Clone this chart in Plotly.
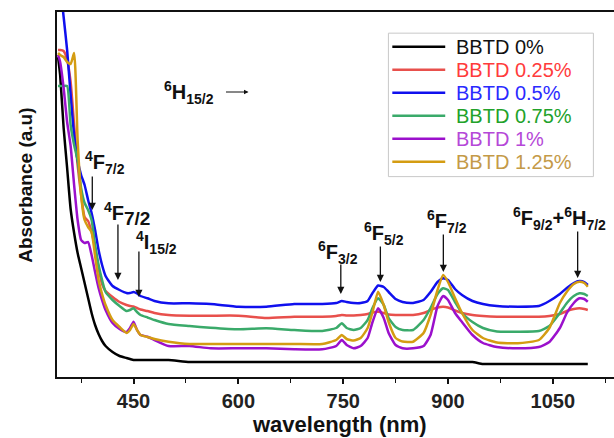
import plotly.graph_objects as go

# Wavelength grid (nm) shared by all spectra
wavelength = [342, 345, 350, 355, 360, 365, 370, 375, 380, 385, 390, 395, 400, 405, 410,
              420, 430, 440, 445, 450, 455, 460, 470, 480, 500, 530, 560, 600, 640, 680,
              720, 740, 748, 755, 765, 775, 785, 792, 800, 808, 815, 825, 835, 850, 865,
              875, 885, 893, 900, 910, 920, 935, 950, 970, 1000, 1030, 1045, 1060, 1070,
              1080, 1088, 1095, 1100]

# Absorbance (a.u.) of each glass
abs_0 = [3.20, 3.02, 2.49, 2.09, 1.68, 1.44, 1.24, 1.09, 0.94, 0.79, 0.64, 0.52, 0.43, 0.36, 0.31,
         0.25, 0.21, 0.19, 0.18, 0.17, 0.17, 0.17, 0.17, 0.17, 0.17, 0.15, 0.15, 0.15, 0.15, 0.15,
         0.15, 0.15, 0.15, 0.15, 0.15, 0.15, 0.15, 0.15, 0.15, 0.15, 0.15, 0.15, 0.15, 0.15, 0.15,
         0.15, 0.15, 0.15, 0.15, 0.15, 0.15, 0.15, 0.13, 0.13, 0.13, 0.13, 0.13, 0.13, 0.13,
         0.13, 0.13, 0.13, 0.13]
abs_025 = [3.27, 3.27, 3.26, 3.17, 2.95, 2.52, 2.12, 1.82, 1.60, 1.56, 1.45, 1.29, 1.09, 0.93, 0.86,
           0.80, 0.75, 0.72, 0.71, 0.705, 0.69, 0.675, 0.66, 0.64, 0.62, 0.613, 0.613, 0.613, 0.59, 0.603,
           0.603, 0.61, 0.62, 0.615, 0.615, 0.62, 0.63, 0.645, 0.653, 0.64, 0.625, 0.62, 0.62, 0.62, 0.64,
           0.67, 0.695, 0.703, 0.695, 0.665, 0.64, 0.62, 0.61, 0.603, 0.603, 0.603, 0.61, 0.63, 0.66,
           0.68, 0.687, 0.68, 0.67]
abs_05 = [4.23, 3.94, 3.60, 3.27, 2.82, 2.42, 2.17, 2.02, 1.92, 1.77, 1.64, 1.47, 1.27, 1.12, 1.01,
          0.91, 0.87, 0.84, 0.84, 0.85, 0.835, 0.81, 0.787, 0.76, 0.737, 0.737, 0.73, 0.703, 0.703, 0.73,
          0.73, 0.74, 0.76, 0.75, 0.74, 0.74, 0.76, 0.84, 0.915, 0.90, 0.85, 0.78, 0.75, 0.74, 0.77,
          0.85, 0.95, 0.987, 0.97, 0.88, 0.82, 0.76, 0.73, 0.71, 0.703, 0.71, 0.76, 0.83, 0.89,
          0.94, 0.96, 0.95, 0.92]
abs_075 = [2.91, 2.91, 2.91, 2.91, 2.52, 2.32, 2.17, 1.89, 1.74, 1.67, 1.57, 1.32, 1.12, 0.97, 0.85,
           0.77, 0.71, 0.66, 0.67, 0.687, 0.65, 0.62, 0.595, 0.57, 0.53, 0.51, 0.493, 0.477, 0.487, 0.47,
           0.46, 0.49, 0.537, 0.49, 0.47, 0.49, 0.57, 0.69, 0.787, 0.72, 0.59, 0.50, 0.47, 0.47, 0.57,
           0.69, 0.83, 0.887, 0.87, 0.75, 0.64, 0.55, 0.49, 0.455, 0.453, 0.46, 0.51, 0.64, 0.74,
           0.81, 0.837, 0.83, 0.81]
abs_1 = [3.22, 3.15, 2.89, 2.55, 2.31, 1.92, 1.57, 1.37, 1.34, 1.35, 1.22, 1.05, 0.89, 0.77, 0.67,
         0.54, 0.48, 0.45, 0.49, 0.553, 0.47, 0.42, 0.403, 0.37, 0.31, 0.31, 0.287, 0.287, 0.287, 0.277,
         0.277, 0.31, 0.37, 0.32, 0.287, 0.31, 0.39, 0.55, 0.687, 0.59, 0.44, 0.32, 0.287, 0.287, 0.31,
         0.42, 0.71, 0.81, 0.77, 0.64, 0.55, 0.42, 0.34, 0.30, 0.287, 0.30, 0.35, 0.49, 0.64,
         0.74, 0.787, 0.78, 0.753]
abs_125 = [3.24, 3.22, 3.20, 3.15, 3.13, 3.24, 2.37, 1.82, 1.57, 1.50, 1.45, 1.21, 0.97, 0.83, 0.72,
           0.57, 0.50, 0.44, 0.47, 0.53, 0.47, 0.42, 0.40, 0.38, 0.353, 0.33, 0.33, 0.33, 0.33, 0.33,
           0.33, 0.37, 0.42, 0.38, 0.365, 0.39, 0.49, 0.65, 0.853, 0.72, 0.55, 0.39, 0.355, 0.353, 0.44,
           0.62, 0.87, 1.02, 0.95, 0.79, 0.64, 0.47, 0.39, 0.345, 0.337, 0.37, 0.49, 0.74, 0.853,
           0.93, 0.953, 0.94, 0.903]

series_names = ["BBTD 0%", "BBTD 0.25%", "BBTD 0.5%", "BBTD 0.75%", "BBTD 1%", "BBTD 1.25%"]
series_values = [abs_0, abs_025, abs_05, abs_075, abs_1, abs_125]
line_colors = ["#000000", "#e8504c", "#1010ee", "#3aaa6a", "#9b10cc", "#d49c12"]
text_colors = ["#111111", "#ff3b3b", "#2a2aff", "#22a22a", "#b548d8", "#c49a48"]

# Dy3+ transitions: label, label position, arrow tip (wavelength, absorbance), arrow length (px)
transition_text = ["<sup>4</sup>F<sub>7/2</sub>",
                   "<sup>4</sup>F<sub><span style='font-size:19px'>7/2</span></sub>",
                   "<sup>4</sup>I<sub>15/2</sub>",
                   "<sup>6</sup>F<sub>3/2</sub>",
                   "<sup>6</sup>F<sub>5/2</sub>",
                   "<sup>6</sup>F<sub>7/2</sub>",
                   "<sup>6</sup>F<sub>9/2</sub>+<sup>6</sup>H<sub>7/2</sub>",
                   "<sup>6</sup>H<sub>15/2</sub>"]
label_wl = [409.7, 441.0, 482.5, 743.0, 808.5, 898.6, 1060.0, 530.0]
label_abs = [2.15, 1.63, 1.35, 1.25, 1.44, 1.56, 1.59, 2.85]
arrow_wl = [391.0, 427.7, 457.7, 746.6, 803.2, 893.3, 1085.5]
arrow_tip = [1.67, 0.97, 0.80, 0.83, 0.95, 1.05, 0.99]
arrow_len = [35, 57, 47, 31, 37, 39, 48]

fig = go.Figure()
for name, ys, col in zip(series_names, series_values, line_colors):
    fig.add_trace(go.Scatter(
        x=wavelength, y=ys, mode="lines", name=name, showlegend=False,
        line=dict(color=col, width=2.5, shape="spline", smoothing=0.5),
    ))

annotations = []
for txt, lx, ly in zip(transition_text, label_wl, label_abs):
    annotations.append(dict(x=lx, y=ly, xref="x", yref="y", text=txt, showarrow=False,
                            xanchor="center", yanchor="middle",
                            font=dict(size=20, color="#111111", weight="bold")))
for ax_wl, tip, ln in zip(arrow_wl, arrow_tip, arrow_len):
    annotations.append(dict(x=ax_wl, y=tip, xref="x", yref="y", text="", showarrow=True,
                            ax=0, ay=-ln, arrowhead=2, arrowsize=1.1, arrowwidth=1.3,
                            arrowcolor="#111111", standoff=0))
# horizontal arrow after the 6H15/2 label
annotations.append(dict(x=614.5, y=2.85, xref="x", yref="y", text="", showarrow=True,
                        ax=-24, ay=0, arrowhead=2, arrowsize=0.9, arrowwidth=1.0,
                        arrowcolor="#111111", standoff=0))

# axis titles
annotations.append(dict(x=0.508, y=-0.131, xref="paper", yref="paper", text="wavelength (nm)",
                        showarrow=False, xanchor="center", yanchor="middle",
                        font=dict(size=22, color="#111111", weight="bold")))
annotations.append(dict(x=-0.058, y=0.526, xref="paper", yref="paper", text="Absorbance (a.u)",
                        showarrow=False, xanchor="center", yanchor="middle", textangle=-90,
                        font=dict(size=19, color="#111111", weight="bold")))

# legend box drawn in paper coordinates
shapes = [dict(type="rect", xref="paper", yref="paper", x0=0.595, x1=0.963, y0=0.549, y1=0.942,
               line=dict(color="#c8c8c8", width=1), fillcolor="white", layer="above")]
row_y = [0.905, 0.842, 0.779, 0.716, 0.653, 0.590]
for name, col, tcol, ry in zip(series_names, line_colors, text_colors, row_y):
    shapes.append(dict(type="line", xref="paper", yref="paper", x0=0.602, x1=0.697, y0=ry, y1=ry,
                       line=dict(color=col, width=2.5), layer="above"))
    annotations.append(dict(x=0.712, y=ry, xref="paper", yref="paper", text=name, showarrow=False,
                            xanchor="left", yanchor="middle",
                            font=dict(size=20, color=tcol)))

fig.update_layout(
    width=614, height=438,
    margin=dict(l=57, r=0, t=12, b=61),
    paper_bgcolor="white", plot_bgcolor="white",
    font=dict(family="Arial, Liberation Sans, sans-serif", color="#111111"),
    showlegend=False,
    annotations=annotations,
    shapes=shapes,
    xaxis=dict(range=[340.5, 1137.5], tick0=450, dtick=150, ticks="outside", ticklen=5,
               tickwidth=1.5, tickcolor="#111111", showline=True, linewidth=2, linecolor="#111111",
               mirror=True, showgrid=False, zeroline=False,
               tickfont=dict(size=20, color="#222222", weight="bold"),
               minor=dict(dtick=75, tick0=375, ticks="outside", ticklen=4, tickwidth=1.2,
                          tickcolor="#111111", showgrid=False)),
    yaxis=dict(range=[0, 3.65], showticklabels=False, ticks="", showline=True, linewidth=2,
               linecolor="#111111", mirror=False, showgrid=False, zeroline=False),
)

fig.write_html("out.html")
